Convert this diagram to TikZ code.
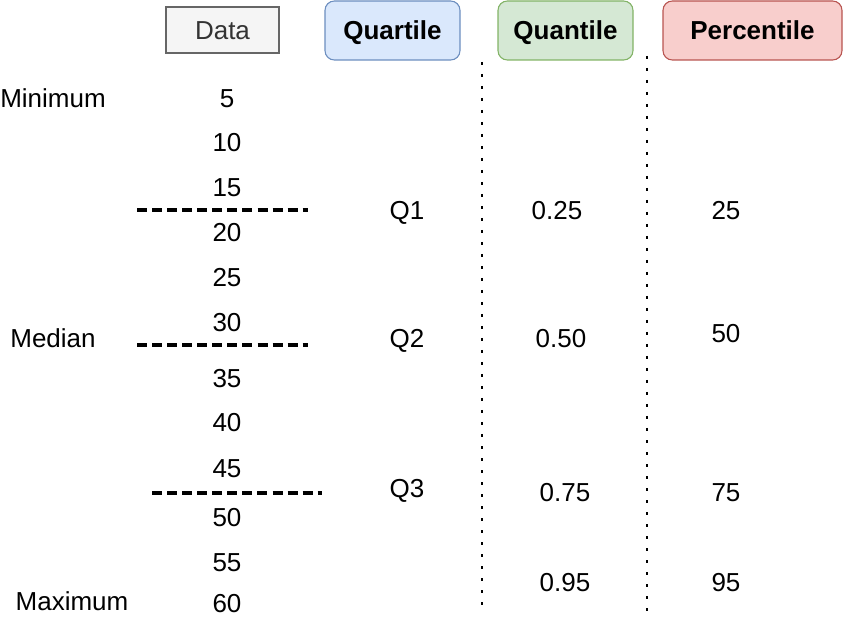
\documentclass[tikz,border=0pt]{standalone}
\usepackage{fontspec}
\setmainfont{Liberation Sans}
\definecolor{datafill}{HTML}{F5F5F5}
\definecolor{dataline}{HTML}{666666}
\definecolor{datatext}{HTML}{333333}
\definecolor{qrtfill}{HTML}{DAE8FC}
\definecolor{qrtline}{HTML}{6C8EBF}
\definecolor{qntfill}{HTML}{D5E8D4}
\definecolor{qntline}{HTML}{82B366}
\definecolor{pctfill}{HTML}{F8CECC}
\definecolor{pctline}{HTML}{B85450}

\begin{document}
\begin{tikzpicture}[x=0.75pt,y=-0.75pt,
  every node/.style={font=\fontsize{19.5}{23}\selectfont, inner sep=0pt, text height=14pt, text depth=0pt},
  hdr/.style={draw, line width=0.8pt, rounded corners=7pt, minimum height=44.25pt, font=\fontsize{19.5}{23}\selectfont\bfseries},
  cut/.style={line width=2.3pt, dash pattern=on 7.5pt off 3.8pt},
  sep/.style={line width=2.2pt, dash pattern=on 2.2pt off 6.8pt}]
  \useasboundingbox (0,0) rectangle (844,617);

  \node[draw=dataline, fill=datafill, text=datatext, line width=0.8pt, minimum width=84.75pt, minimum height=34.5pt] (data) at (222.5,30) {Data};
  \node[hdr, draw=qrtline, fill=qrtfill, minimum width=101.25pt] (quartile) at (392.5,30.5) {Quartile};
  \node[hdr, draw=qntline, fill=qntfill, minimum width=101.25pt] (quantile) at (565.5,30.5) {Quantile};
  \node[hdr, draw=pctline, fill=pctfill, minimum width=134.25pt] (percentile) at (752.5,30.5) {Percentile};

  \node (d5)  at (227,98)  {5};
  \node (d10) at (227,142) {10};
  \node (d15) at (227,187) {15};
  \node (d20) at (227,232) {20};
  \node (d25) at (227,277) {25};
  \node (d30) at (227,322) {30};
  \node (d35) at (227,378) {35};
  \node (d40) at (227,422) {40};
  \node (d45) at (227,468) {45};
  \node (d50) at (227,517) {50};
  \node (d55) at (227,562) {55};
  \node (d60) at (227,603) {60};

  \node (min) at (53,98)  {Minimum};
  \node (med) at (53,338) {Median};
  \node (max) at (72,601) {Maximum};

  \draw[cut] (137,210) -- (308,210);
  \draw[cut] (137,345) -- (308,345);
  \draw[cut] (152,493) -- (322,493);

  \node (q1) at (407,210) {Q1};
  \node (q2) at (407,338) {Q2};
  \node (q3) at (407,488) {Q3};

  \draw[sep] (482,62) -- (482,612);
  \draw[sep] (647,56) -- (647,612);

  \node (qn25) at (557,210) {0.25};
  \node (qn50) at (561,338) {0.50};
  \node (qn75) at (565,492) {0.75};
  \node (qn95) at (565,582) {0.95};

  \node (p25) at (726,210) {25};
  \node (p50) at (726,333) {50};
  \node (p75) at (726,492) {75};
  \node (p95) at (726,582) {95};
\end{tikzpicture}
\end{document}
